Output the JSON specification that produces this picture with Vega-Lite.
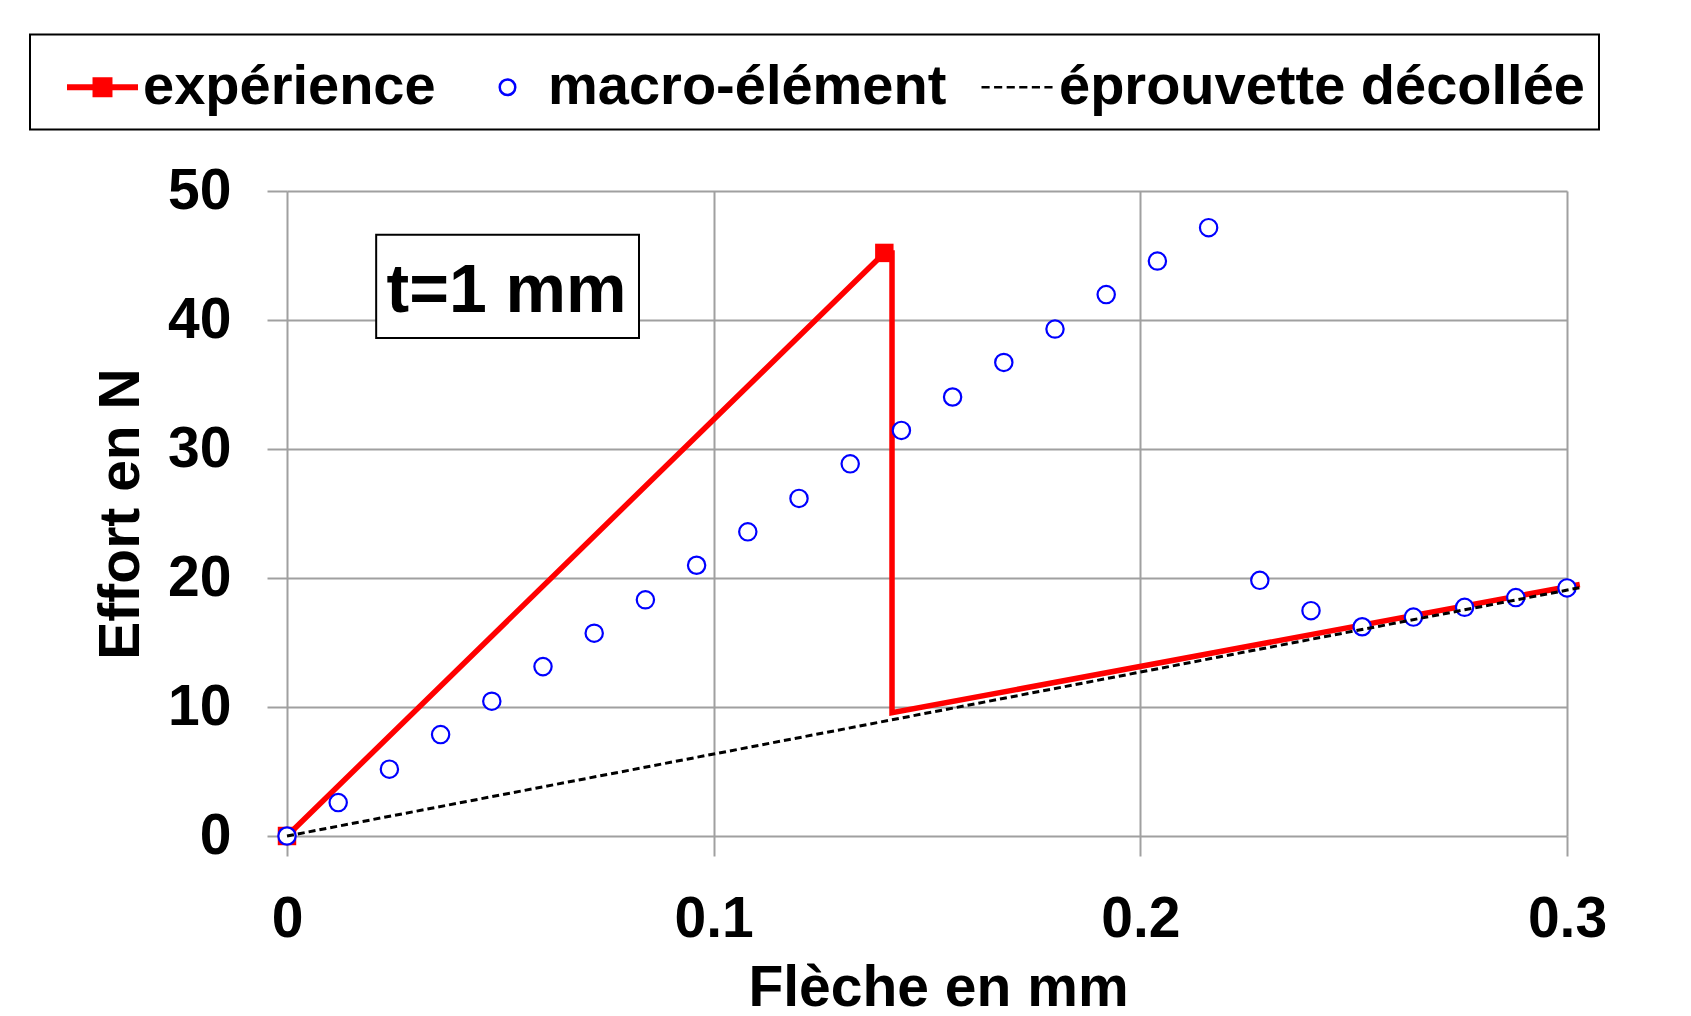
{
  "$schema": "https://vega.github.io/schema/vega-lite/v6.json",
  "width": 1280,
  "height": 645,
  "autosize": {"type": "none"},
  "padding": {"left": 287, "top": 191, "right": 124, "bottom": 180},
  "background": "white",
  "config": {
    "font": "Liberation Sans",
    "view": {"stroke": null},
    "legend": {"strokeWidth": 2},
    "axis": {
      "grid": true,
      "gridColor": "#a0a0a0",
      "gridWidth": 2,
      "domain": false,
      "ticks": true,
      "tickSize": 20,
      "tickColor": "#a0a0a0",
      "tickWidth": 2,
      "labelFlush": false,
      "labelFont": "Liberation Sans",
      "labelFontSize": 57,
      "labelFontWeight": "bold",
      "labelColor": "black",
      "titleFont": "Liberation Sans",
      "titleFontSize": 57,
      "titleFontWeight": "bold",
      "titleColor": "black"
    }
  },
  "datasets": {
    "exp": [
      {"i": 0, "x": 0, "y": 0, "serie": "expérience"},
      {"i": 1, "x": 0.140, "y": 45.2, "serie": "expérience"},
      {"i": 2, "x": 0.1418, "y": 45.2, "serie": "expérience"},
      {"i": 3, "x": 0.1418, "y": 9.55, "serie": "expérience"},
      {"i": 4, "x": 0.303, "y": 19.5, "serie": "expérience"}
    ],
    "macro": [
      {"x": 0.000, "y": 0.00, "serie": "macro-élément"},
      {"x": 0.012, "y": 2.59, "serie": "macro-élément"},
      {"x": 0.024, "y": 5.18, "serie": "macro-élément"},
      {"x": 0.036, "y": 7.86, "serie": "macro-élément"},
      {"x": 0.048, "y": 10.45, "serie": "macro-élément"},
      {"x": 0.060, "y": 13.13, "serie": "macro-élément"},
      {"x": 0.072, "y": 15.72, "serie": "macro-élément"},
      {"x": 0.084, "y": 18.31, "serie": "macro-élément"},
      {"x": 0.096, "y": 20.99, "serie": "macro-élément"},
      {"x": 0.108, "y": 23.58, "serie": "macro-élément"},
      {"x": 0.120, "y": 26.17, "serie": "macro-élément"},
      {"x": 0.132, "y": 28.85, "serie": "macro-élément"},
      {"x": 0.144, "y": 31.44, "serie": "macro-élément"},
      {"x": 0.156, "y": 34.03, "serie": "macro-élément"},
      {"x": 0.168, "y": 36.71, "serie": "macro-élément"},
      {"x": 0.180, "y": 39.30, "serie": "macro-élément"},
      {"x": 0.192, "y": 41.97, "serie": "macro-élément"},
      {"x": 0.204, "y": 44.57, "serie": "macro-élément"},
      {"x": 0.216, "y": 47.16, "serie": "macro-élément"},
      {"x": 0.228, "y": 19.82, "serie": "macro-élément"},
      {"x": 0.240, "y": 17.47, "serie": "macro-élément"},
      {"x": 0.252, "y": 16.22, "serie": "macro-élément"},
      {"x": 0.264, "y": 16.97, "serie": "macro-élément"},
      {"x": 0.276, "y": 17.73, "serie": "macro-élément"},
      {"x": 0.288, "y": 18.48, "serie": "macro-élément"},
      {"x": 0.300, "y": 19.23, "serie": "macro-élément"}
    ],
    "decol": [
      {"x": 0, "y": 0, "serie": "éprouvette décollée"},
      {"x": 0.303, "y": 19.25, "serie": "éprouvette décollée"}
    ],
    "note": [
      {"label": "t=1 mm"}
    ]
  },
  "layer": [
    {
      "data": {"name": "note"},
      "mark": {"type": "rect", "fill": "white", "stroke": "black", "strokeWidth": 2},
      "encoding": {
        "x": {"datum": 0.0209, "type": "quantitative", "scale": {"domain": [0, 0.3], "nice": false, "zero": false},
              "axis": {"values": [0, 0.1, 0.2, 0.3], "format": "~g", "title": "Flèche en mm", "labelPadding": 35,
                       "titleX": 651, "titleY": 169, "titleBaseline": "alphabetic", "titleAlign": "center"}},
        "x2": {"datum": 0.0825},
        "y": {"datum": 46.6, "type": "quantitative", "scale": {"domain": [0, 50], "nice": false, "zero": false},
              "axis": {"values": [0, 10, 20, 30, 40, 50], "title": "Effort en N", "labelPadding": 36,
                       "titleX": -149, "titleY": 322.5, "titleAngle": 270, "titleBaseline": "alphabetic", "titleAlign": "center"}},
        "y2": {"datum": 38.6}
      }
    },
    {
      "data": {"name": "note"},
      "mark": {"type": "text", "font": "Liberation Sans", "fontSize": 68, "fontWeight": "bold", "color": "black", "align": "center", "baseline": "middle"},
      "encoding": {
        "x": {"datum": 0.05145, "type": "quantitative"},
        "y": {"datum": 42.2, "type": "quantitative"},
        "text": {"field": "label"}
      }
    },
    {
      "data": {"name": "exp"},
      "mark": {"type": "line", "strokeWidth": 5.5},
      "encoding": {
        "x": {"field": "x", "type": "quantitative"},
        "y": {"field": "y", "type": "quantitative"},
        "order": {"field": "i"},
        "color": {
          "field": "serie", "type": "nominal",
          "scale": {"domain": ["expérience", "macro-élément", "éprouvette décollée"], "range": ["#ff0000", "#0000ff", "#000000"]},
          "legend": {
            "orient": "none", "legendX": -257, "legendY": -156.5,
            "direction": "horizontal", "title": null,
            "strokeColor": "black", "fillColor": "white",
            "padding": 14,
            "symbolSize": 5476,
            "symbolStrokeWidth": 2.5,
            "symbolOpacity": 1,
            "symbolType": {"expr": "datum.value === 'expérience' ? 'M-0.96,-0.047H0.96M-0.96,0H0.96M-0.96,0.047H0.96M-0.236,-0.236H0.236V0.236H-0.236ZM-0.176,-0.176H0.176V0.176H-0.176ZM-0.115,-0.115H0.115V0.115H-0.115ZM-0.054,-0.054H0.054V0.054H-0.054ZM-0.014,-0.014H0.014V0.014H-0.014Z' : datum.value === 'macro-élément' ? 'M-0.21,0A0.21,0.21 0 1,1 0.21,0A0.21,0.21 0 1,1 -0.21,0Z' : 'M-1,0H-0.78M-0.66,0H-0.44M-0.32,0H-0.1M0.02,0H0.24M0.36,0H0.58M0.7,0H0.92'"},
            "labelFont": "Liberation Sans",
            "labelFontSize": 56,
            "labelFontWeight": "bold",
            "labelColor": "black",
            "labelLimit": 2000,
            "labelOffset": 2,
            "columnPadding": 13,
            "symbolOffset": 20
          }
        }
      }
    },
    {
      "data": {"name": "exp"},
      "transform": [{"filter": "datum.i <= 1"}],
      "mark": {"type": "point", "shape": "square", "filled": true, "color": "#ff0000", "size": 340, "opacity": 1},
      "encoding": {
        "x": {"field": "x", "type": "quantitative"},
        "y": {"field": "y", "type": "quantitative"}
      }
    },
    {
      "data": {"name": "macro"},
      "mark": {"type": "point", "shape": "circle", "filled": false, "fill": "white", "size": 300, "strokeWidth": 2.2, "opacity": 1},
      "encoding": {
        "x": {"field": "x", "type": "quantitative"},
        "y": {"field": "y", "type": "quantitative"},
        "color": {"field": "serie", "type": "nominal"}
      }
    },
    {
      "data": {"name": "decol"},
      "mark": {"type": "line", "strokeWidth": 3, "strokeDash": [7, 4]},
      "encoding": {
        "x": {"field": "x", "type": "quantitative"},
        "y": {"field": "y", "type": "quantitative"},
        "color": {"field": "serie", "type": "nominal"}
      }
    }
  ]
}
